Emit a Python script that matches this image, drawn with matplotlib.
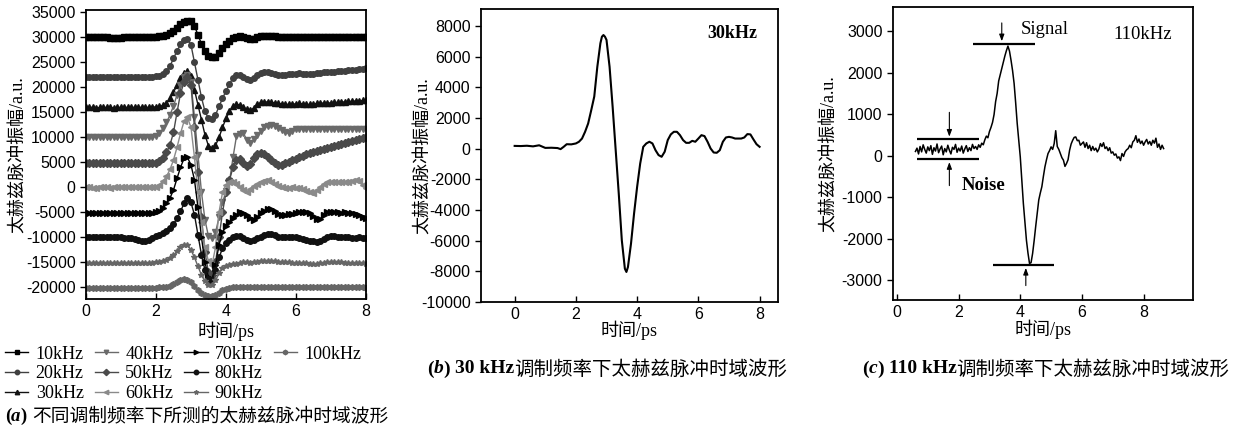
import numpy as np
import matplotlib.pyplot as plt
from matplotlib.lines import Line2D

plt.rcParams['font.family'] = ['Liberation Serif', 'Noto Sans CJK SC']
plt.rcParams['axes.unicode_minus'] = False

# ---- panel (a): pulses at different modulation frequencies, values in 1000 a.u., step 0.1 ps
f10 = [30.0, 30.0, 30.0, 30.0, 30.0, 30.0, 30.0, 29.9, 29.9, 29.9,
       29.9, 30.0, 30.0, 30.0, 30.0, 30.0, 30.0, 30.0, 30.0, 30.0,
       30.1, 30.2, 30.3, 30.5, 30.8, 31.3, 31.9, 32.6, 33.0, 33.2,
       33.3, 32.3, 30.5, 28.7, 27.2, 26.2, 26.0, 26.1, 26.8, 27.8,
       28.6, 29.3, 29.8, 30.1, 30.2, 30.1, 29.8, 29.6, 29.7, 30.0,
       30.2, 30.3, 30.3, 30.3, 30.2, 30.1, 30.0, 30.0, 30.0, 30.0,
       30.0, 30.0, 30.0, 30.0, 30.0, 30.0, 30.0, 30.0, 30.0, 30.0,
       30.0, 30.0, 30.0, 30.0, 30.0, 30.0, 30.0, 30.0, 30.1, 30.1,
       30.1]
f20 = [22.0, 22.0, 22.0, 22.0, 22.0, 22.0, 22.0, 22.0, 22.0, 22.0,
       22.0, 22.0, 22.0, 22.0, 22.0, 22.0, 22.0, 22.0, 22.0, 22.1,
       22.2, 22.3, 22.6, 23.2, 24.3, 25.8, 27.3, 28.6, 29.4, 29.7,
       28.5, 25.0, 21.5, 18.0, 15.2, 13.8, 13.7, 14.5, 16.2, 17.8,
       19.3, 20.7, 21.9, 22.4, 22.5, 22.1, 21.6, 21.4, 21.8, 22.4,
       22.8, 23.0, 23.1, 22.9, 22.7, 22.5, 22.4, 22.5, 22.6, 22.6,
       22.7, 22.8, 22.7, 22.6, 22.6, 22.7, 22.8, 22.9, 23.0, 23.0,
       23.1, 23.1, 23.2, 23.3, 23.3, 23.4, 23.4, 23.5, 23.6, 23.7,
       23.8]
f30 = [16.0, 16.0, 16.0, 15.9, 16.0, 16.0, 16.0, 16.0, 15.9, 16.0,
       16.0, 16.0, 16.0, 16.0, 16.0, 16.0, 16.0, 16.0, 16.0, 16.1,
       16.1, 16.2, 16.4, 16.9, 17.8, 19.0, 20.5, 21.8, 22.8, 23.2,
       22.3, 19.5, 16.5, 13.5, 10.5, 8.3, 7.9, 8.4, 10.0, 12.0,
       13.8, 15.2, 16.2, 16.6, 16.5, 16.0, 15.6, 15.5, 15.9, 16.6,
       17.0, 17.1, 17.1, 17.0, 16.9, 16.8, 16.7, 16.6, 16.6, 16.7,
       16.7, 16.8, 16.7, 16.6, 16.6, 16.7, 16.8, 16.8, 16.9, 16.9,
       16.9, 17.0, 17.0, 17.1, 17.1, 17.2, 17.2, 17.3, 17.3, 17.4,
       17.4]
f40 = [10.0, 10.0, 10.0, 10.0, 10.0, 10.0, 10.0, 10.0, 10.0, 10.0,
       10.0, 10.0, 10.0, 10.0, 10.0, 10.0, 10.0, 10.0, 10.0, 10.1,
       10.2, 10.8, 11.8, 13.0, 14.5, 16.3, 18.5, 20.5, 22.0, 22.5,
       21.0, 14.0, 6.5, -1.0, -6.5, -9.8, -10.2, -9.0, -6.0, -3.0,
       -0.8, 1.2, 6.0, 10.3, 10.6, 10.8, 9.5, 8.8, 9.6, 10.5,
       11.3, 12.0, 12.3, 12.4, 12.3, 11.9, 11.4, 11.0, 10.8, 11.2,
       11.6, 11.7, 11.7, 11.7, 11.7, 11.7, 11.7, 11.7, 11.7, 11.7,
       11.7, 11.7, 11.7, 11.7, 11.7, 11.7, 11.7, 11.7, 11.7, 11.7,
       11.7]
f50 = [4.8, 4.8, 4.8, 4.8, 4.8, 4.8, 4.8, 4.8, 4.8, 4.8,
       4.8, 4.8, 4.8, 4.8, 4.8, 4.8, 4.8, 4.8, 4.8, 4.8,
       4.9, 5.2, 5.8, 7.0, 8.5, 11.0, 15.0, 18.8, 21.0, 22.0,
       20.5, 12.0, 3.0, -6.0, -13.0, -17.0, -17.5, -15.0, -10.0, -5.0,
       -1.0, 1.5, 4.0, 5.5, 5.7, 4.8, 4.2, 4.6, 5.8, 6.6,
       6.8, 6.6, 6.0, 5.4, 4.8, 4.4, 4.5, 4.8, 5.1, 5.4,
       5.7, 6.0, 6.3, 6.6, 6.9, 7.1, 7.3, 7.5, 7.7, 7.9,
       8.1, 8.3, 8.5, 8.7, 8.9, 9.1, 9.3, 9.5, 9.7, 9.9,
       10.0]
f60 = [0.0, 0.0, -0.1, -0.1, 0.0, 0.0, 0.0, -0.1, 0.0, 0.0,
       0.0, 0.0, 0.0, 0.0, 0.0, 0.0, 0.0, 0.0, 0.0, 0.0,
       0.1, 0.5, 1.2, 2.2, 3.6, 5.5, 8.0, 10.8, 13.2, 14.0,
       12.0, 6.0, -1.0, -7.0, -12.0, -14.8, -15.5, -12.0, -5.0, -1.0,
       0.5, 1.0, 1.1, 0.6, 0.0, -0.6, -0.9, -0.3, 0.3, 0.7,
       1.0, 1.3, 1.5, 1.1, 0.6, 0.2, 0.0, -0.1, -0.1, 0.0,
       -0.1, -0.2, -0.4, -0.7, -0.9, -1.1, -0.6, 0.0, 0.6, 1.0,
       1.1, 1.1, 1.0, 1.0, 1.1, 1.1, 1.2, 1.4, 1.2, 0.5,
       -0.2]
f70 = [-5.1, -5.1, -5.1, -5.1, -5.1, -5.1, -5.1, -5.1, -5.1, -5.1,
       -5.1, -5.1, -5.1, -5.1, -5.1, -5.1, -5.1, -5.1, -5.1, -5.1,
       -5.0, -4.8, -4.2, -3.1, -2.1, -0.5, 1.8, 4.0, 5.8, 6.0,
       4.5, 1.5, -4.0, -10.0, -15.0, -18.0, -18.5, -15.5, -11.5, -9.0,
       -7.8, -7.0, -6.2, -5.5, -4.9, -5.1, -5.6, -6.2, -6.5, -6.0,
       -5.2, -4.8, -4.3, -4.3, -4.8, -5.4, -5.6, -5.5, -5.4, -5.4,
       -5.2, -5.0, -4.9, -5.0, -5.1, -5.8, -6.4, -6.3, -5.6, -5.0,
       -4.9, -5.0, -5.0, -5.1, -5.0, -5.1, -5.2, -5.4, -5.6, -6.0,
       -6.2]
f80 = [-10.0, -10.0, -10.0, -10.0, -10.0, -10.0, -10.0, -10.0, -10.0, -10.0,
       -10.0, -10.1, -10.1, -10.2, -10.4, -10.6, -10.8, -10.8, -10.5, -10.2,
       -9.8, -9.5, -9.1, -8.7, -8.2, -7.3, -6.2, -4.8, -3.2, -2.2,
       -3.0, -5.5, -9.5, -13.5, -16.5, -18.3, -18.6, -16.5, -14.0, -12.2,
       -11.2, -10.5, -10.0, -9.8, -9.8, -10.1, -10.6, -10.8, -10.5, -10.1,
       -9.9, -9.6, -9.4, -9.4, -9.6, -9.9, -10.0, -10.0, -9.9, -9.9,
       -10.0, -10.1, -10.3, -10.5, -10.7, -10.8, -10.9, -10.7, -10.3, -10.0,
       -9.8, -9.8, -9.9, -9.9, -10.0, -10.0, -10.1, -10.1, -10.0, -10.1,
       -10.2]
f90 = [-15.1, -15.1, -15.1, -15.1, -15.1, -15.1, -15.1, -15.1, -15.1, -15.1,
       -15.1, -15.1, -15.1, -15.1, -15.1, -15.1, -15.1, -15.1, -15.1, -15.1,
       -15.0, -14.9, -14.8, -14.6, -14.2, -13.6, -12.8, -12.0, -11.5, -11.6,
       -12.5, -14.0, -15.8, -17.5, -18.8, -19.5, -19.6, -18.6, -17.2, -16.2,
       -15.8, -15.6, -15.4, -15.3, -15.1, -15.0, -15.0, -15.1, -15.0, -14.9,
       -14.8, -14.8, -14.7, -14.8, -14.8, -14.9, -15.0, -15.0, -15.0, -15.1,
       -15.1, -15.1, -15.1, -15.2, -15.3, -15.4, -15.3, -15.2, -15.1, -15.0,
       -15.0, -15.0, -15.0, -15.0, -15.1, -15.1, -15.1, -15.1, -15.2, -15.2,
       -15.3]
f100 = [-20.1, -20.1, -20.1, -20.1, -20.1, -20.1, -20.1, -20.1, -20.1, -20.1,
        -20.1, -20.1, -20.1, -20.1, -20.1, -20.1, -20.1, -20.1, -20.1, -20.1,
        -20.1, -20.0, -20.0, -19.9, -19.7, -19.4, -19.0, -18.6, -18.4, -18.5,
        -19.0, -19.8, -20.6, -21.2, -21.6, -21.8, -21.8, -21.6, -21.1, -20.6,
        -20.3, -20.1, -20.0, -20.0, -20.0, -20.0, -20.0, -20.0, -20.0, -20.0,
        -19.9, -19.9, -19.9, -20.0, -20.0, -20.0, -20.0, -20.0, -20.0, -20.0,
        -20.0, -20.0, -20.0, -20.0, -20.0, -20.0, -20.0, -20.0, -20.0, -20.0,
        -20.0, -20.0, -20.0, -20.0, -20.0, -20.0, -20.0, -20.0, -20.0, -20.0,
        -20.1]

labels_a = ['10kHz', '20kHz', '30kHz', '40kHz', '50kHz',
            '60kHz', '70kHz', '80kHz', '90kHz', '100kHz']
series_a = [f10, f20, f30, f40, f50, f60, f70, f80, f90, f100]
markers_a = ['s', 'o', '^', 'v', 'D', '<', '>', 'o', '*', 'h']
colors_a = ['#000000', '#404040', '#111111', '#6a6a6a', '#4a4a4a',
            '#8a8a8a', '#000000', '#111111', '#666666', '#666666']

# ---- panel (b): 30 kHz
t_b = [0.0, 0.2, 0.4, 0.6, 0.8, 1.0, 1.2, 1.4, 1.5, 1.6, 1.7, 1.85, 2.0,
       2.1, 2.2, 2.3, 2.4, 2.5, 2.6, 2.7, 2.8, 2.85, 2.9, 2.95, 3.0, 3.1,
       3.2, 3.3, 3.4, 3.5, 3.6, 3.65, 3.7, 3.8, 3.9, 4.0, 4.1, 4.2, 4.3,
       4.4, 4.5, 4.6, 4.7, 4.8, 4.9, 5.0, 5.1, 5.2, 5.3, 5.4, 5.5, 5.6,
       5.7, 5.8, 5.9, 6.0, 6.1, 6.2, 6.3, 6.4, 6.5, 6.6, 6.7, 6.8, 6.9,
       7.0, 7.1, 7.2, 7.3, 7.4, 7.5, 7.6, 7.7, 7.8, 7.9, 8.0]
v_b = [180, 170, 190, 150, 220, 50, 60, 40, -30, 120, 290, 280, 340,
       450, 660, 1100, 1640, 2500, 3400, 5340, 6870, 7300, 7410, 7300, 7090, 5340,
       2730, -100, -2930, -5980, -7830, -8040, -7720, -6190, -4230, -2490, -970, 120, 340,
       450, 340, -100, -420, -530, -200, 560, 930, 1100, 1100, 880, 560, 380,
       380, 510, 450, 660, 880, 820, 450, 10, -250, -270, -100, 450, 730,
       770, 730, 660, 660, 660, 730, 950, 930, 600, 290, 120]

# ---- panel (c): 110 kHz, step 0.05 ps from 0.6 ps
v_c = [100, 180, 40, 220, 90, 260, 150, 60, 210, 120,
       240, 30, 190, 110, 280, 70, 160, 230, 20, 170,
       90, 250, 130, 40, 200, 150, 270, 80, 180, 110,
       230, 60, 160, 240, 100, 190, 120, 270, 170, 220,
       150, 260, 200, 300, 260, 380, 470, 430, 580, 680,
       800, 990, 1300, 1500, 1800, 1950, 2100, 2250, 2400, 2530,
       2640, 2520, 2300, 2050, 1740, 1280, 780, 370, -30, -600,
       -1150, -1600, -2040, -2350, -2600, -2580, -2360, -2050, -1710, -1400,
       -1070, -900, -750, -500, -270, -100, 50, 120, 210, 150,
       290, 600, 220, 150, 50, -50, -110, -260, -190, -100,
       130, 280, 370, 440, 450, 360, 370, 250, 290, 330,
       200, 310, 170, 250, 120, 220, 130, 180, 90, 160,
       290, 220, 310, 170, 210, 120, 190, 60, 90, 10,
       40, -60, -30, -120, 50, -20, 90, 140, 170, 250,
       190, 330, 370, 480, 320, 400, 290, 350, 250, 330,
       390, 280, 340, 250, 370, 300, 420, 200, 280, 150,
       250, 170]

fig = plt.figure(figsize=(12.39, 4.32), dpi=100)
cjk = ['Liberation Serif', 'Noto Sans CJK SC']
ylab = '太赫兹脉冲振幅/a.u.'


def style(ax, xcoord, ycoord):
    for s in ax.spines.values():
        s.set_linewidth(1.3)
    ax.tick_params(axis='x', direction='in', length=4, width=1)
    ax.tick_params(axis='y', direction='out', length=4, width=1)
    for lab in ax.get_xticklabels() + ax.get_yticklabels():
        lab.set_fontfamily('Liberation Sans')
        lab.set_fontsize(11.5)
    ax.set_xlabel('时间/ps', family=cjk, fontsize=13)
    ax.set_ylabel(ylab, family=cjk, fontsize=13)
    ax.xaxis.set_label_coords(0.5, xcoord)
    ax.yaxis.set_label_coords(ycoord, 0.5)


def caption(x, y, letter, latin, chinese, ha='left', size=14):
    # caption built from pieces: "(" italic letter ")" + latin + chinese
    r = fig.canvas.get_renderer()
    pieces = [('(', dict(weight='bold')),
              (letter, dict(weight='bold', style='italic')),
              (')', dict(weight='bold'))]
    gaps = [0, 0, 5]
    if latin:
        pieces.append((latin, dict(weight='bold')))
        gaps.append(0)
    pieces.append((chinese, dict(family=['Noto Sans CJK SC'])))
    gaps.append(0)
    objs = []
    for txt, kw in pieces:
        kw.setdefault('family', ['Liberation Serif'])
        objs.append(fig.text(0, y, txt, fontsize=size, va='center', ha='left', **kw))
    widths = [o.get_window_extent(r).width / fig.bbox.width for o in objs]
    total = sum(widths) + sum(gaps) / fig.bbox.width
    x0 = x if ha == 'left' else x - total / 2
    for o, w, g in zip(objs, widths, gaps):
        o.set_x(x0)
        x0 += w + g / fig.bbox.width


# (a)
ax_a = fig.add_axes([0.0694, 0.3079, 0.226, 0.669])
for lab, vals, mk, col in zip(labels_a, series_a, markers_a, colors_a):
    v = np.array(vals) * 1000
    t = np.linspace(0, 8, len(v))
    ax_a.plot(t, v, marker=mk, color=col, ms=4, lw=1, label=lab)
ax_a.set_xlim(0, 8)
ax_a.set_ylim(-22300, 35500)
ax_a.set_xticks([0, 2, 4, 6, 8])
ax_a.set_yticks(np.arange(-20000, 35001, 5000))
style(ax_a, -0.078, -0.21)
handles, labels = ax_a.get_legend_handles_labels()
blank = Line2D([], [], linestyle='none', marker='none')
handles += [blank, blank]
labels += ['', '']
fig.legend(handles, labels, loc='upper left', bbox_to_anchor=(0.004, 0.200),
           ncol=4, frameon=False, fontsize=13, handlelength=1.3,
           handletextpad=0.4, columnspacing=0.6, labelspacing=0.15,
           borderpad=0, borderaxespad=0, markerscale=0.8)
caption(0.004, 0.037, 'a', '', '不同调制频率下所测的太赫兹脉冲时域波形', size=13.5)

# (b)
ax_b = fig.add_axes([0.3882, 0.3009, 0.2397, 0.678])
ax_b.plot(t_b, v_b, color='black', lw=1.5)
ax_b.set_xlim(-1.1, 8.6)
ax_b.set_ylim(-10000, 9100)
ax_b.set_xticks([0, 2, 4, 6, 8])
ax_b.set_yticks(np.arange(-10000, 8001, 2000))
style(ax_b, -0.062, -0.165)
ax_b.text(7.12, 7520, '30kHz', fontsize=13, weight='bold', ha='center', va='center')
caption(0.490, 0.146, 'b', '30 kHz', '调制频率下太赫兹脉冲时域波形', ha='center')

# (c)
ax_c = fig.add_axes([0.7207, 0.3056, 0.2421, 0.678])
t_c = np.linspace(0.6, 8.65, len(v_c))
ax_c.plot(t_c, v_c, color='black', lw=1.1)
ax_c.set_xlim(-0.13, 9.6)
ax_c.set_ylim(-3480, 3580)
ax_c.set_xticks([0, 2, 4, 6, 8])
ax_c.set_yticks(np.arange(-3000, 3001, 1000))
style(ax_c, -0.066, -0.183)
# signal / noise markers
ax_c.hlines([390, -90], 0.65, 2.65, color='black', lw=1.6)
ax_c.hlines(2690, 2.48, 4.47, color='black', lw=1.6)
ax_c.hlines(-2640, 3.1, 5.1, color='black', lw=1.6)
arrow = dict(arrowstyle='-|>,head_length=0.4,head_width=0.15', color='black', lw=0.8)
ax_c.annotate('', xy=(1.70, 390), xytext=(1.70, 1110), arrowprops=arrow)
ax_c.annotate('', xy=(1.70, -90), xytext=(1.70, -790), arrowprops=arrow)
ax_c.annotate('', xy=(3.40, 2690), xytext=(3.40, 3265), arrowprops=arrow)
ax_c.annotate('', xy=(4.18, -2640), xytext=(4.18, -3200), arrowprops=arrow)
ax_c.text(4.79, 3040, 'Signal', fontsize=13.5, ha='center', va='center')
ax_c.text(2.82, -730, 'Noise', fontsize=13.5, weight='bold', ha='center', va='center')
ax_c.text(7.98, 2920, '110kHz', fontsize=13.5, ha='center', va='center')
caption(0.844, 0.146, 'c', '110 kHz', '调制频率下太赫兹脉冲时域波形', ha='center')

fig.savefig('out.png', dpi=100)
